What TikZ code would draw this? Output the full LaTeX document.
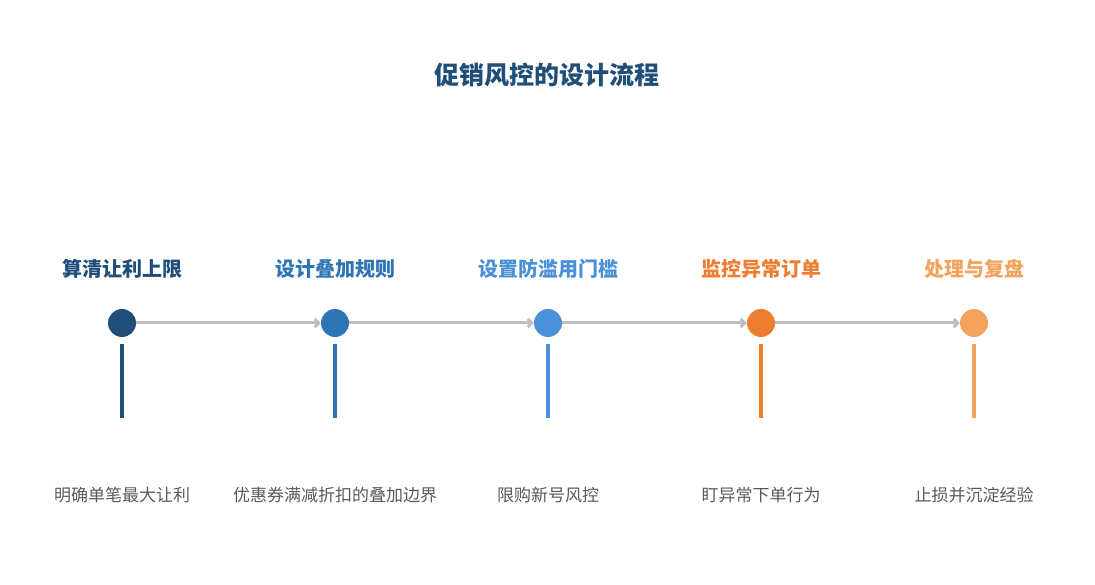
\documentclass[tikz,border=0pt]{standalone}
\usepackage{fontspec}
\newfontfamily\cjk{Noto Sans CJK SC}
\usetikzlibrary{arrows.meta}
\definecolor{cA}{HTML}{1F4E79}
\definecolor{cB}{HTML}{2E75B6}
\definecolor{cC}{HTML}{4A90D9}
\definecolor{cD}{HTML}{ED7D31}
\definecolor{cE}{HTML}{F2A35E}
\definecolor{ln}{HTML}{BFBFBF}
\definecolor{tx}{HTML}{595959}
\begin{document}
\begin{tikzpicture}[x=1pt,y=-1pt,
 dot/.style={circle,fill=#1,minimum size=28pt,inner sep=0pt},
 head/.style={font=\cjk\bfseries\fontsize{20}{24}\selectfont,text=#1},
 desc/.style={font=\cjk\fontsize{17}{20}\selectfont,text=tx},
 conn/.style={draw=ln,line width=3pt,-{Straight Barb[length=4pt,width=8pt]}}]
\useasboundingbox (0,0) rectangle (1095,585);
\node[font=\cjk\bfseries\fontsize{25}{30}\selectfont,text=cA] (t) at (547,75) {促销风控的设计流程};
\foreach \i/\x/\c/\h/\d in {1/122/cA/算清让利上限/明确单笔最大让利,2/335/cB/设计叠加规则/优惠券满减折扣的叠加边界,3/548/cC/设置防滥用门槛/限购新号风控,4/761/cD/监控异常订单/盯异常下单行为,5/974/cE/处理与复盘/止损并沉淀经验}{
 \node[dot=\c] (d\i) at (\x,323) {};
 \node[head=\c] (h\i) at (\x,269) {\h};
 \node[desc] (s\i) at (\x,495) {\d};
 \coordinate (a\i) at (\x,344);
 \coordinate (b\i) at (\x,418);
 \draw[\c,line width=4pt] (a\i) -- (b\i);
}
\foreach \i/\j in {1/2,2/3,3/4,4/5}{\draw[conn] (d\i) -- (d\j);}
\end{tikzpicture}
\end{document}
